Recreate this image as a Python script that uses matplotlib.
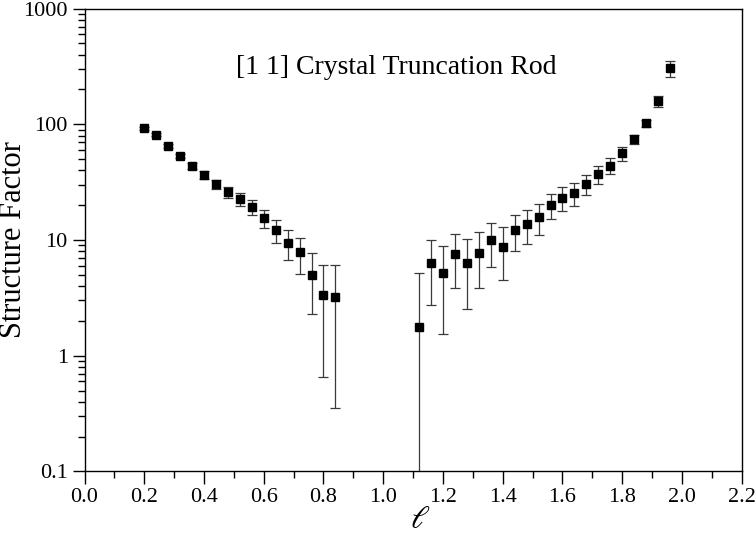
import numpy as np
import matplotlib
matplotlib.use("Agg")
import matplotlib.pyplot as plt
from matplotlib.ticker import (FixedLocator, FixedFormatter, MultipleLocator,
                               LogLocator, NullFormatter, FormatStrFormatter)

plt.rcParams['font.family'] = ['Liberation Serif', 'DejaVu Serif']
plt.rcParams['mathtext.fontset'] = 'stix'

# rod coordinate l and measured structure factor with errors
ell = [0.20, 0.24, 0.28, 0.32, 0.36, 0.40, 0.44, 0.48, 0.52, 0.56, 0.60, 0.64,
       0.68, 0.72, 0.76, 0.80, 0.84,
       1.12, 1.16, 1.20, 1.24, 1.28, 1.32, 1.36, 1.40, 1.44, 1.48, 1.52, 1.56,
       1.60, 1.64, 1.68, 1.72, 1.76, 1.80, 1.84, 1.88, 1.92, 1.96]
sf = [92.3, 81.3, 65.3, 53.2, 43.6, 36.5, 30.5, 26.0, 22.6, 19.2, 15.5, 12.2,
      9.4, 7.8, 5.0, 3.35, 3.2,
      1.77, 6.33, 5.19, 7.52, 6.33, 7.77, 10.0, 8.7, 12.3, 13.8, 15.7, 20.2,
      23.1, 25.3, 30.3, 37.0, 43.9, 56.1, 74.1, 102, 159, 305]
sf_err = [2.5, 2.5, 2.5, 2.5, 2.6, 2.6, 2.8, 3.0, 3.0, 2.8, 2.8, 2.7,
          2.7, 2.7, 2.7, 2.7, 2.85,
          3.45, 3.6, 3.65, 3.7, 3.8, 3.95, 4.1, 4.2, 4.2, 4.5, 4.6, 4.9,
          5.4, 5.6, 6.0, 6.5, 7.0, 8.0, 6.0, 7.0, 17, 49]

y_ticks = [0.1, 1, 10, 100, 1000]
y_labels = ['0.1', '1', '10', '100', '1000']

sf = np.array(sf)
sf_err = np.array(sf_err)
# lower bars that would go below zero just run off the bottom of the log axis
lower = np.where(sf_err >= sf, sf * 0.9999, sf_err)

fig = plt.figure(figsize=(7.56, 5.42), dpi=100)
ax = fig.add_axes([0.1118, 0.1303, 0.8693, 0.8538])

ax.errorbar(ell, sf, yerr=[lower, sf_err], fmt='s', color='black', ms=6,
            ecolor='#3a3a3a', elinewidth=0.9, capsize=3.6, capthick=0.9)

ax.set_yscale('log')
ax.set_xlim(0.0, 2.2)
ax.set_ylim(0.1, 1000)

ax.xaxis.set_major_locator(MultipleLocator(0.2))
ax.xaxis.set_minor_locator(MultipleLocator(0.1))
ax.xaxis.set_major_formatter(FormatStrFormatter('%.1f'))

ax.yaxis.set_major_locator(FixedLocator(y_ticks))
ax.yaxis.set_major_formatter(FixedFormatter(y_labels))
ax.yaxis.set_minor_locator(LogLocator(base=10, subs=np.arange(2, 10)))
ax.yaxis.set_minor_formatter(NullFormatter())

ax.tick_params(which='major', direction='out', length=9, width=1.0, labelsize=16, pad=3)
ax.tick_params(which='minor', direction='out', length=5, width=1.0)
for s in ax.spines.values():
    s.set_linewidth(1.0)

ax.set_xlabel(r'$\ell$', fontsize=23)
ax.xaxis.set_label_coords(0.51, -0.075)
ax.set_ylabel('Structure Factor', fontsize=22)
ax.yaxis.set_label_coords(-0.086, 0.5)

ax.text(0.474, 0.873, '[1 1] Crystal Truncation Rod', transform=ax.transAxes,
        ha='center', va='center', fontsize=20)

fig.savefig('out.png', dpi=100)
